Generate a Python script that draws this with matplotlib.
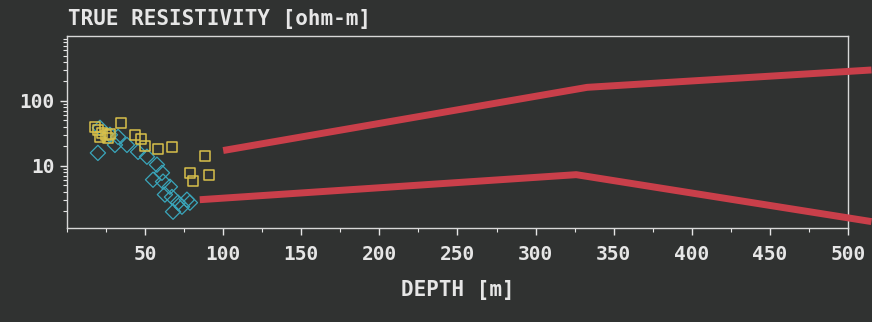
import matplotlib.pyplot as plt
from matplotlib.ticker import MultipleLocator, FixedLocator, NullFormatter, LogLocator

# measured points (depth m, resistivity ohm-m)
sq_depth = [17.9, 19.8, 22.4, 25.0, 27.5, 21.1, 26.2, 34.6, 43.5, 47.4,
            49.9, 58.3, 67.2, 88.3, 78.7, 80.7, 90.9]
sq_res = [39.8, 35.8, 32.2, 30.0, 31.0, 27.9, 27.0, 45.9, 30.0, 26.0,
          20.3, 18.3, 19.6, 14.3, 7.8, 5.9, 7.3]

dm_depth = [19.8, 21.1, 27.5, 30.7, 32.7, 38.4, 45.5, 51.2, 57.6, 60.8,
            55.1, 61.5, 65.9, 62.7, 67.2, 71.1, 76.8, 78.7, 67.9, 73.6]
dm_res = [15.8, 38.5, 30.0, 21.0, 27.9, 21.0, 16.4, 13.8, 10.4, 7.8,
          6.1, 5.7, 4.75, 3.6, 3.3, 2.7, 3.0, 2.7, 1.96, 2.34]

# model bounds
upper_depth = [100, 333, 515]
upper_res = [17.2, 162, 300]
lower_depth = [85, 326, 515]
lower_res = [3.0, 7.3, 1.38]

x_ticks = [50, 100, 150, 200, 250, 300, 350, 400, 450, 500]
y_ticks = [10, 100]
y_labels = ['10', '100']

bg = '#303231'
fg = '#e6e6e6'
mono = 'DejaVu Sans Mono'

fig = plt.figure(figsize=(8.72, 3.22), dpi=100, facecolor=bg)
ax = fig.add_axes([0.0768, 0.292, 0.8957, 0.596], facecolor=bg)

ax.plot(upper_depth, upper_res, color='#c93f4a', lw=5, solid_capstyle='butt', clip_on=False, zorder=3)
ax.plot(lower_depth, lower_res, color='#c93f4a', lw=5, solid_capstyle='butt', clip_on=False, zorder=3)

ax.scatter(dm_depth, dm_res, marker='D', s=60, facecolors='none', edgecolors='#3aa6bb', linewidths=0.9, zorder=2)
ax.scatter(sq_depth, sq_res, marker='s', s=55, facecolors='none', edgecolors='#d8c04a', linewidths=1.1, zorder=2)

ax.set_yscale('log')
ax.set_xlim(0, 500)
ax.set_ylim(1.1, 1000)

ax.xaxis.set_major_locator(FixedLocator(x_ticks))
ax.xaxis.set_minor_locator(MultipleLocator(25))
ax.yaxis.set_major_locator(FixedLocator(y_ticks))
ax.yaxis.set_minor_locator(LogLocator(base=10, subs=range(2, 10)))
ax.yaxis.set_minor_formatter(NullFormatter())
ax.set_yticklabels(y_labels)

for lab in ax.get_xticklabels() + ax.get_yticklabels():
    lab.set_fontfamily(mono)
    lab.set_fontweight('bold')
    lab.set_fontsize(14)

ax.tick_params(axis='both', which='major', colors=fg, length=5, width=1, direction='out')
ax.tick_params(axis='both', which='minor', colors=fg, length=3, width=0.8, direction='out')
ax.tick_params(axis='x', pad=7)
ax.tick_params(axis='y', pad=4)

for sp in ax.spines.values():
    sp.set_color('#d8d8d8')
    sp.set_linewidth(1)

fig.text(0.078, 0.94, 'TRUE RESISTIVITY [ohm-m]', fontsize=15, ha='left', va='center',
         family=mono, weight='bold', color=fg)
ax.set_xlabel('DEPTH [m]', fontsize=15, family=mono, weight='bold', color=fg, va='center')
ax.xaxis.set_label_coords(0.5, -0.323)

fig.savefig('out.png', dpi=100, facecolor=bg)
